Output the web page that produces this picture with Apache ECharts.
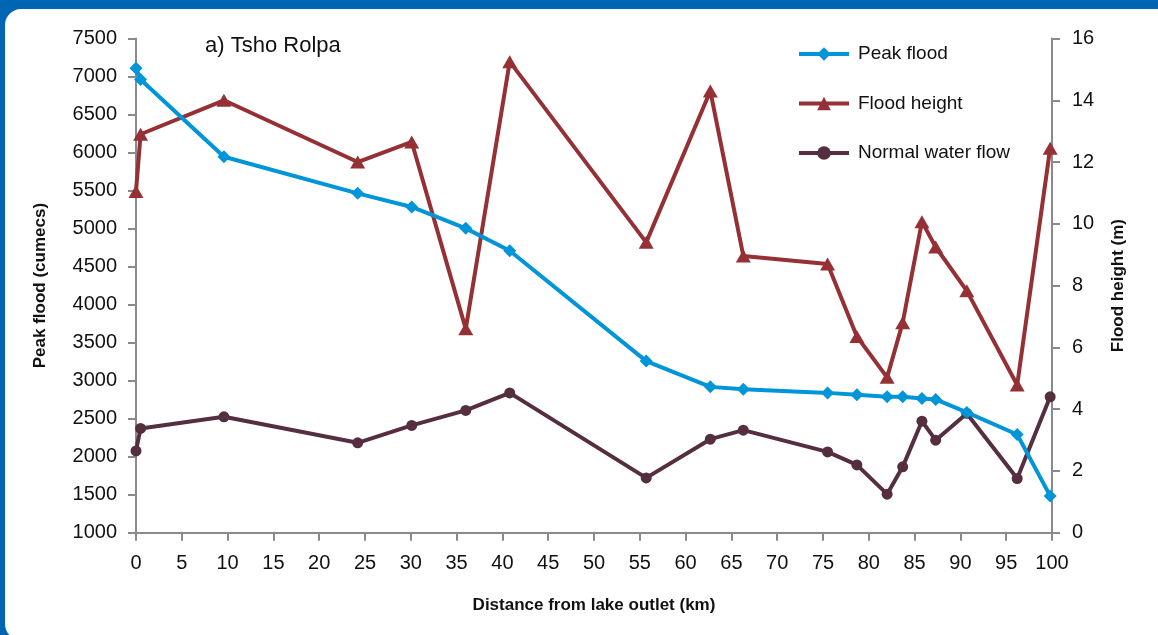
<!DOCTYPE html>
<html>
<head>
<meta charset="utf-8">
<script src="https://cdn.jsdelivr.net/npm/echarts@6/dist/echarts.min.js"></script>
<style>
  html, body { margin: 0; padding: 0; width: 1158px; height: 635px; overflow: hidden; background: #0066b3; }
  #panel { position: absolute; left: 5px; top: 9px; width: 1175px; height: 631px; background: #ffffff; border-radius: 16px; }
  #chart { position: absolute; left: 0; top: 0; width: 1158px; height: 635px; }
</style>
</head>
<body>
<div id="panel"></div>
<div id="chart"></div>
<script>
// Distance from lake outlet (km)
const distances = [0, 0.5, 9.6, 24.2, 30.1, 36.0, 40.8, 55.7, 62.7, 66.3, 75.5, 78.7, 82.0, 83.7, 85.8, 87.3, 90.7, 96.2, 99.8];
// Peak flood (cumecs)
const peakFlood = [7110, 6960, 5945, 5463, 5284, 5003, 4708, 3257, 2918, 2888, 2839, 2813, 2787, 2787, 2766, 2753, 2582, 2292, 1484];
// Flood height (m)
const floodHeight = [11.05, 12.9, 14.0, 12.0, 12.65, 6.6, 15.25, 9.4, 14.3, 8.96, 8.7, 6.35, 5.03, 6.8, 10.07, 9.25, 7.83, 4.78, 12.45];
// Normal water flow (plotted against left axis)
const normalFlow = [2076, 2371, 2524, 2182, 2411, 2608, 2839, 1721, 2230, 2349, 2063, 1892, 1507, 1866, 2467, 2217, 2568, 1713, 2787];

const seriesNames = ['Peak flood', 'Flood height', 'Normal water flow'];
const titleText = 'a) Tsho Rolpa';
const xName = 'Distance from lake outlet (km)';
const yLeftName = 'Peak flood (cumecs)';
const yRightName = 'Flood height (m)';

const pair = (vals) => distances.map((d, i) => [d, vals[i]]);

const AXIS_COLOR = '#8a8a8a';
const LABEL_FONT = 'Liberation Sans, Arial, sans-serif';

const chart = echarts.init(document.getElementById('chart'), null, { renderer: 'canvas' });

const axisCommon = {
  axisLine: { show: true, lineStyle: { color: AXIS_COLOR, width: 2 } },
  axisTick: { show: true, inside: false, length: 8, lineStyle: { color: AXIS_COLOR, width: 2 } },
  splitLine: { show: false },
  nameTextStyle: { fontFamily: LABEL_FONT, fontWeight: 'bold', fontSize: 17, color: '#111' }
};

const plainNum = (v) => String(v);

chart.setOption({
  animation: false,
  backgroundColor: 'transparent',
  title: {
    text: titleText,
    left: 205, top: 35, padding: 0,
    textStyle: { fontFamily: LABEL_FONT, fontWeight: 'normal', fontSize: 22, color: '#111' }
  },
  legend: {
    orient: 'vertical',
    left: 797, top: 44, padding: 0,
    itemWidth: 50, itemHeight: 17, itemGap: 29.5,
    data: seriesNames,
    lineStyle: { width: 4 },
    textStyle: { fontFamily: LABEL_FONT, fontSize: 19, color: '#111', lineHeight: 20, padding: [0, 0, 0, 4] }
  },
  grid: { left: 136, right: 106, top: 38.5, bottom: 102.3, containLabel: false, outerBoundsMode: 'none' },
  xAxis: Object.assign({}, axisCommon, {
    type: 'value', min: 0, max: 100, interval: 5,
    name: xName, nameLocation: 'middle', nameGap: 64,
    axisLabel: { fontFamily: LABEL_FONT, fontSize: 20, color: '#111', margin: 21, formatter: plainNum }
  }),
  yAxis: [
    Object.assign({}, axisCommon, {
      type: 'value', min: 1000, max: 7500, interval: 500, position: 'left',
      name: yLeftName, nameLocation: 'middle', nameGap: 87, nameRotate: 90,
      axisLabel: { fontFamily: LABEL_FONT, fontSize: 20, color: '#111', margin: 19, formatter: plainNum }
    }),
    Object.assign({}, axisCommon, {
      type: 'value', min: 0, max: 16, interval: 2, position: 'right',
      name: yRightName, nameLocation: 'middle', nameGap: 58, nameRotate: 90,
      axisLabel: { fontFamily: LABEL_FONT, fontSize: 20, color: '#111', margin: 20, formatter: plainNum }
    })
  ],
  series: [
    {
      name: seriesNames[0], type: 'line', yAxisIndex: 0, z: 4,
      data: pair(peakFlood),
      symbol: 'diamond', symbolSize: 13, showAllSymbol: true,
      lineStyle: { color: '#0095d9', width: 4 },
      itemStyle: { color: '#0095d9' }
    },
    {
      name: seriesNames[1], type: 'line', yAxisIndex: 1, z: 3,
      data: pair(floodHeight),
      symbol: 'triangle', symbolSize: [15, 13], showAllSymbol: true,
      lineStyle: { color: '#953035', width: 4 },
      itemStyle: { color: '#953035' }
    },
    {
      name: seriesNames[2], type: 'line', yAxisIndex: 0, z: 2,
      data: pair(normalFlow),
      symbol: 'circle', symbolSize: 11, showAllSymbol: true,
      lineStyle: { color: '#552f40', width: 4 },
      itemStyle: { color: '#552f40' }
    }
  ]
});
</script>
</body>
</html>
